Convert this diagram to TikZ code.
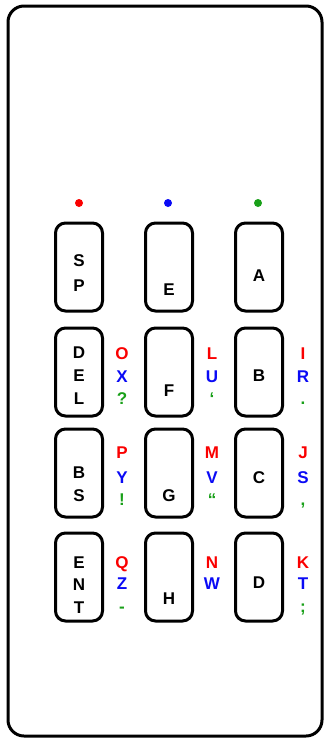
\documentclass[tikz,border=0pt]{standalone}
\usepackage{fontspec}
\setmainfont{Liberation Sans}
\definecolor{keyred}{RGB}{250,0,0}
\definecolor{keyblue}{RGB}{10,10,245}
\definecolor{keygreen}{RGB}{25,160,25}
\begin{document}
\begin{tikzpicture}[x=1pt, y=-1pt, font=\fontsize{17}{24}\selectfont\bfseries,
	keybox/.style={draw, line width=3pt, rounded corners=10pt, minimum width=47pt, minimum height=88pt, inner sep=0pt},
	lbl/.style={anchor=base, inner sep=0pt}]
	\useasboundingbox (0,0) rectangle (325,740);
	% Khung ngoai
	\draw[line width=3pt, rounded corners=16pt] (8,6) rectangle (322,736);
	
	% Cham mau
	\fill[keyred] (79,203) circle (4);
	\fill[keyblue] (168,203) circle (4);
	\fill[keygreen] (258,203) circle (4);
	
	% Phim
	\node[keybox] (kSP) at (79,267) {};
	\node[keybox] (kE) at (169,267) {};
	\node[keybox] (kA) at (259,267) {};
	\node[keybox] (kDEL) at (79,372) {};
	\node[keybox] (kF) at (169,372) {};
	\node[keybox] (kB) at (259,372) {};
	\node[keybox] (kBS) at (79,473) {};
	\node[keybox] (kG) at (169,473) {};
	\node[keybox] (kC) at (259,473) {};
	\node[keybox] (kENT) at (79,577) {};
	\node[keybox] (kH) at (169,577) {};
	\node[keybox] (kD) at (259,577) {};
	
	% Chu tren phim
	\node[lbl] (tS) at (79,266) {S};
	\node[lbl] (tP) at (79,291) {P};
	\node[lbl] (tE) at (169,295) {E};
	\node[lbl] (tA) at (259,281) {A};
	\node[lbl] (tD1) at (79,358) {D};
	\node[lbl] (tE1) at (79,381) {E};
	\node[lbl] (tL1) at (79,404) {L};
	\node[lbl] (tF) at (169,396) {F};
	\node[lbl] (tB) at (259,381) {B};
	\node[lbl] (tB2) at (79,478) {B};
	\node[lbl] (tS2) at (79,501) {S};
	\node[lbl] (tG) at (169,501) {G};
	\node[lbl] (tC) at (259,483) {C};
	\node[lbl] (tE3) at (79,568) {E};
	\node[lbl] (tN3) at (79,590) {N};
	\node[lbl] (tT3) at (79,613) {T};
	\node[lbl] (tH) at (169,604) {H};
	\node[lbl] (tD) at (259,588) {D};
	
	% Chu mau ben phai
	\node[lbl, keyred] (cO) at (122,359) {O};
	\node[lbl, keyblue] (cX) at (122,382) {X};
	\node[lbl, keygreen] (cQm) at (122,404) {?};
	\node[lbl, keyred] (cL) at (212,359) {L};
	\node[lbl, keyblue] (cU) at (212,382) {U};
	\node[lbl, keygreen] (cQl) at (212,404) {‘};
	\node[lbl, keyred] (cI) at (303,359) {I};
	\node[lbl, keyblue] (cR) at (303,382) {R};
	\node[lbl, keygreen] (cDot) at (303,404) {.};
	
	\node[lbl, keyred] (cP) at (122,458) {P};
	\node[lbl, keyblue] (cY) at (122,483) {Y};
	\node[lbl, keygreen] (cEx) at (122,505) {!};
	\node[lbl, keyred] (cM) at (212,458) {M};
	\node[lbl, keyblue] (cV) at (212,483) {V};
	\node[lbl, keygreen] (cQd) at (212,505) {“};
	\node[lbl, keyred] (cJ) at (303,458) {J};
	\node[lbl, keyblue] (cS) at (303,483) {S};
	\node[lbl, keygreen] (cCm) at (303,505) {,};
	
	\node[lbl, keyred] (cQ) at (122,568) {Q};
	\node[lbl, keyblue] (cZ) at (122,589) {Z};
	\node[lbl, keygreen] (cHy) at (122,612) {-};
	\node[lbl, keyred] (cN) at (212,568) {N};
	\node[lbl, keyblue] (cW) at (212,589) {W};
	\node[lbl, keyred] (cK) at (303,568) {K};
	\node[lbl, keyblue] (cT) at (303,589) {T};
	\node[lbl, keygreen] (cSc) at (303,612) {;};
\end{tikzpicture}
\end{document}
